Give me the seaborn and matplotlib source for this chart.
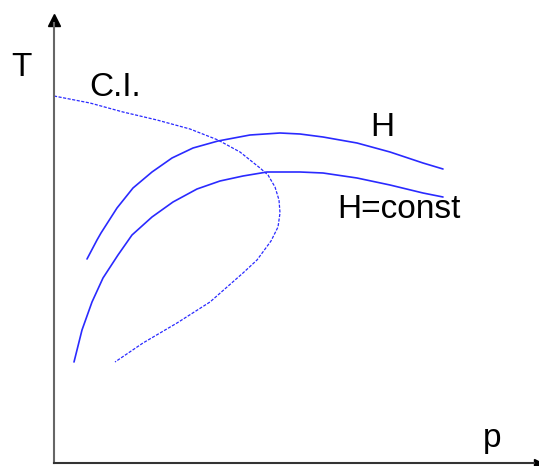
import numpy as np
import pandas as pd
import matplotlib
matplotlib.use("Agg")
import matplotlib.pyplot as plt
import seaborn as sns

# Schematic T-p diagram, values in arbitrary units
h_p = [33, 43, 47, 63, 79, 98, 118, 139, 164, 196, 226, 246, 269, 303, 336, 369, 389]
h_T = [204, 223, 230, 255, 275, 291, 305, 315, 322, 328, 330, 329, 326, 320, 311, 300, 294]

hc_p = [20, 28, 38, 49, 64, 78, 98, 119, 143, 166, 189, 213, 246, 269, 303, 336, 369, 389]
hc_T = [101, 133, 161, 185, 208, 228, 246, 261, 274, 282, 287, 291, 291, 290, 285, 278, 270, 266]

ci_p = [0, 36, 69, 103, 136, 164, 186, 206, 214, 221, 225, 226, 224, 217, 203, 189, 156, 123, 89, 61]
ci_T = [367, 360, 351, 343, 334, 323, 311, 295, 288, 276, 263, 250, 236, 222, 203, 190, 161, 140, 120, 101]

sns.set_style("white")
plt.rcParams['font.family'] = ['Liberation Sans', 'DejaVu Sans']

fig = plt.figure(figsize=(5.39, 4.66), dpi=100)
ax = fig.add_axes([0, 0, 1, 1])

blue = '#2a2aff'
sns.lineplot(x=h_p, y=h_T, sort=False, color=blue, lw=1.2, ax=ax)
sns.lineplot(x=hc_p, y=hc_T, sort=False, color=blue, lw=1.2, ax=ax)
sns.lineplot(x=ci_p, y=ci_T, sort=False, color=blue, lw=0.9,
             linestyle=(0, (2.5, 1.2)), ax=ax)

ax.set_xlim(-54, 485)
ax.set_ylim(-3, 463)

for side in ['top', 'right']:
    ax.spines[side].set_visible(False)
ax.spines['left'].set_position(('data', 0))
ax.spines['bottom'].set_position(('data', 0))
ax.spines['left'].set_bounds(0, 440)
ax.spines['bottom'].set_bounds(0, 480)
ax.spines['left'].set_color('#666666')
ax.spines['bottom'].set_color('#333333')
for side in ['left', 'bottom']:
    ax.spines[side].set_linewidth(1.5)
ax.plot([0], [443], marker='^', color='black', markersize=8, clip_on=False)
ax.plot([484], [0], marker='>', color='black', markersize=6, clip_on=False)
ax.set_xticks([])
ax.set_yticks([])

fs = 24
ax.text(-33, 396, 'T', fontsize=fs, ha='center', va='center', color='black')
ax.text(35, 376, 'C.I.', fontsize=fs, ha='left', va='center', color='black')
ax.text(328, 335, 'H', fontsize=fs, ha='center', va='center', color='black')
ax.text(283, 253, 'H=const', fontsize=fs, ha='left', va='center', color='black')
ax.text(438, 16, 'p', fontsize=fs, ha='center', va='baseline', color='black')

fig.savefig('out.png', dpi=100)
